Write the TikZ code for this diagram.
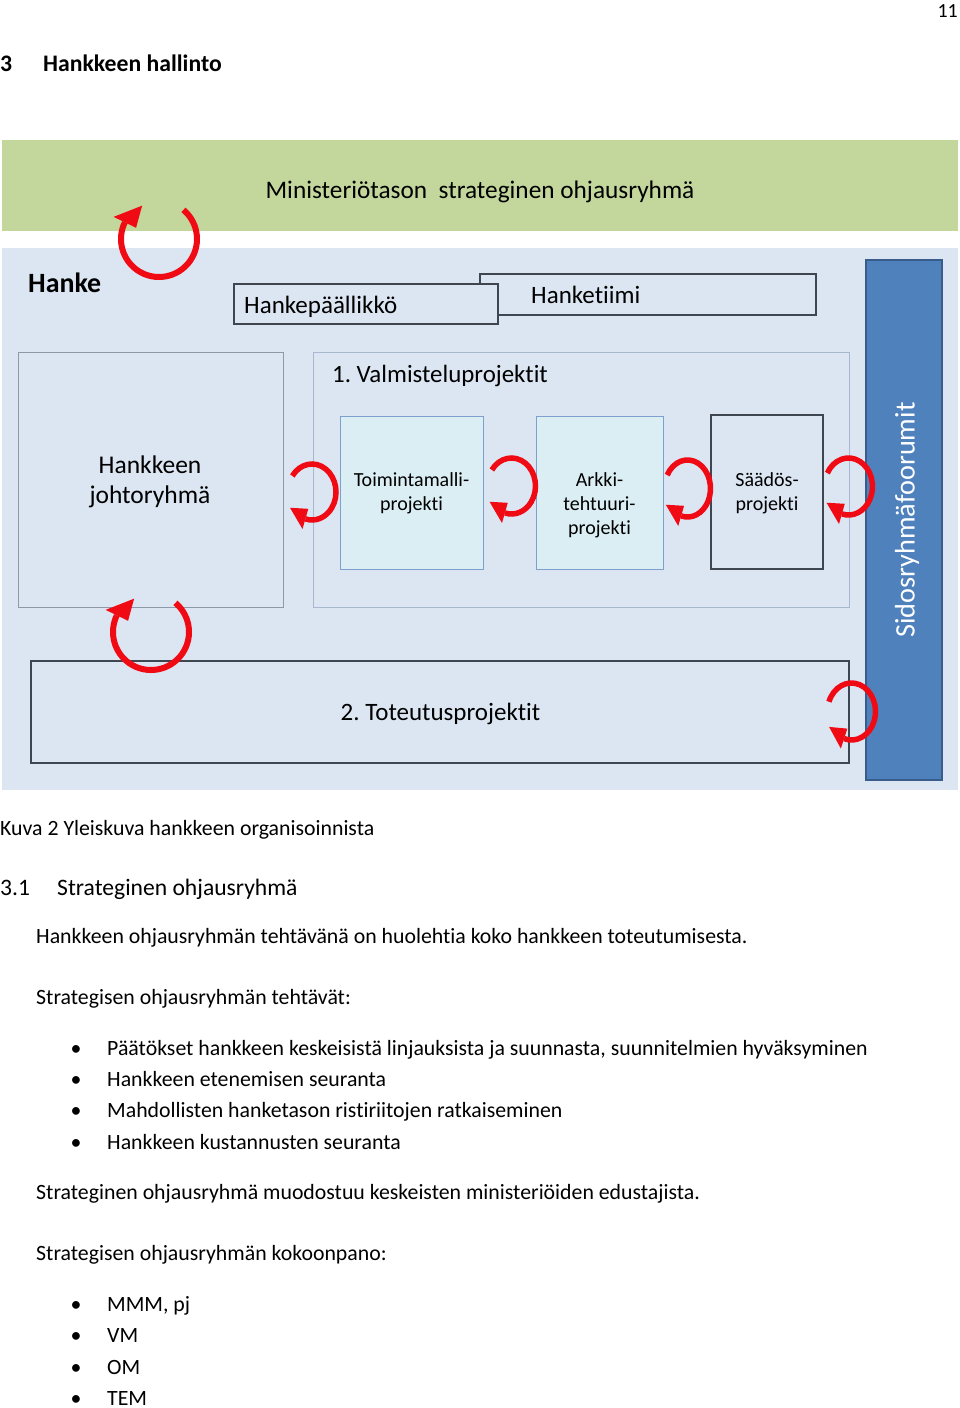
\documentclass[tikz,border=0pt]{standalone}
\usepackage{fontspec}
\setmainfont[Ligatures=NoCommon]{Carlito}
\usetikzlibrary{calc}
\definecolor{grn}{HTML}{C3D69B}
\definecolor{lbl}{HTML}{DCE6F2}
\definecolor{cyanf}{HTML}{DBEEF4}
\definecolor{bluebd}{HTML}{7F9FCF}
\definecolor{liteb}{HTML}{A7B8CF}
\definecolor{greyb}{HTML}{8E99A8}
\definecolor{darkb}{HTML}{3F4650}
\definecolor{barf}{HTML}{4F81BD}
\definecolor{bard}{HTML}{385D8A}
\definecolor{redc}{HTML}{F00A14}
% circular arrow: #1 centre, #2 rx, #3 ry, #4 start, #5 end, #6 head length, #7 head half width, #8 line width
\newcommand\cycarr[8]{%
  \draw[draw=redc, line width=#8] ($(#1)+(#4:#2 and #3)$) arc[start angle=#4, end angle=#5, x radius=#2, y radius=#3];
  \fill[redc] ($(#1)+(#5:#2 and #3)+(#5:#7)$) -- ($(#1)+(#5:#2 and #3)+({#5+180}:#7)$) -- ($(#1)+(#5:#2 and #3)+({#5+110}:#6)$) -- cycle;
}
\frenchspacing
\begin{document}
\frenchspacing
\begin{tikzpicture}[x=1pt,y=-1pt,
  box/.style={rectangle, inner sep=0pt, outer sep=0pt, anchor=north west},
  darkbox/.style={box, fill=lbl, draw=darkb, line width=1.4pt},
  txt/.style={anchor=base west, inner sep=0pt, font=\fontsize{21.8}{26}\selectfont},
  lab/.style={anchor=base, inner sep=0pt, align=center},
  bul/.style={anchor=base, inner sep=0pt, font=\fontsize{21.8}{26}\selectfont}
]
\useasboundingbox (0,0) rectangle (960,1408);
\fill[white] (0,0) rectangle (960,1408);

% header
\node[anchor=base east, inner sep=0pt, font=\fontsize{20}{24}\selectfont] (pg) at (958,17) {11};
\node[txt, font=\fontsize{23.7}{28}\selectfont\bfseries] (h3n) at (0,71) {3};
\node[txt, font=\fontsize{23.7}{28}\selectfont\bfseries] (h3) at (43,71) {Hankkeen hallinto};

% bands
\node[box, fill=grn, minimum width=956pt, minimum height=91pt] (min) at (2,140) {};
\node[box, fill=lbl, minimum width=956pt, minimum height=542pt] (hanke) at (2,248) {};
\node[lab, font=\fontsize{25.3}{30}\selectfont] (mint) at (480,198) {Ministeriötason\ \ strateginen ohjausryhmä};
\node[txt, font=\fontsize{27.9}{32}\selectfont\bfseries] (hanket) at (28,292) {Hanke};

% Hanketiimi / Hankepaallikko
\node[darkbox, minimum width=336pt, minimum height=41pt] (tiimi) at (480,274) {};
\node[txt, font=\fontsize{25}{30}\selectfont] (tiimit) at (531,303) {Hanketiimi};
\node[darkbox, minimum width=264pt, minimum height=40pt] (pj) at (234,284) {};
\node[txt, font=\fontsize{25}{30}\selectfont] (pjt) at (244,313) {Hankepäällikkö};

% johtoryhma, valmistelu
\node[box, draw=greyb, line width=0.9pt, minimum width=265pt, minimum height=255pt] (jr) at (18,352) {};
\node[lab, font=\fontsize{25.5}{30}\selectfont] (jrt) at (150,503) {Hankkeen\\johtoryhmä};
\node[box, draw=liteb, line width=0.9pt, minimum width=536pt, minimum height=255pt] (valm) at (313,352) {};
\node[txt, font=\fontsize{24.9}{30}\selectfont] (valmt) at (332,382) {1. Valmisteluprojektit};

\node[box, fill=cyanf, draw=bluebd, line width=1pt, minimum width=143pt, minimum height=153pt] (toim) at (340,416) {};
\node[lab, font=\fontsize{20}{24}\selectfont] (toimt) at (411.5,510) {Toimintamalli-\\projekti};
\node[box, fill=cyanf, draw=bluebd, line width=1pt, minimum width=127pt, minimum height=153pt] (ark) at (536,416) {};
\node[lab, font=\fontsize{20}{24}\selectfont] (arkt) at (599.5,534) {Arkki-\\tehtuuri-\\projekti};
\node[darkbox, line width=1.1pt, minimum width=112pt, minimum height=154pt] (saad) at (711,415) {};
\node[lab, font=\fontsize{20}{24}\selectfont] (saadt) at (767,510) {Säädös-\\projekti};

% toteutus
\node[darkbox, minimum width=818pt, minimum height=102pt] (tot) at (31,661) {};
\node[lab, font=\fontsize{25}{30}\selectfont] (tott) at (440.5,720) {2. Toteutusprojektit};

% sidosryhma bar
\node[box, fill=barf, draw=bard, line width=1.5pt, minimum width=76pt, minimum height=520pt] (sid) at (866,260) {};
\node[inner sep=0pt, rotate=90, text=white, font=\fontsize{28.3}{33}\selectfont] (sidt) at (907,520) {Sidosryhmäfoorumit};

% red circular arrows
\coordinate (c1) at (159,239);
\coordinate (c2) at (151,632);
\coordinate (c3) at (312,492);
\coordinate (c4) at (511.5,486);
\coordinate (c5) at (687.5,488.5);
\coordinate (c6) at (848.5,486.5);
\coordinate (c7) at (851.5,711.5);
\cycarr{c1}{38}{38}{-50}{206}{24}{12.5}{6pt}
\cycarr{c2}{38}{38}{-50}{206}{24}{12.5}{6pt}
\cycarr{c3}{24}{28}{215}{466}{19}{10.5}{5.5pt}
\cycarr{c4}{24}{28}{215}{466}{19}{10.5}{5.5pt}
\cycarr{c5}{23}{28.5}{208}{466}{19}{10.5}{5.5pt}
\cycarr{c6}{24}{28.5}{208}{466}{19}{10.5}{5.5pt}
\cycarr{c7}{24}{28.5}{200}{468}{19}{10.5}{5.5pt}

% text below
\node[txt] (cap) at (0,835) {Kuva 2 Yleiskuva hankkeen organisoinnista};
\node[txt, font=\fontsize{23.6}{28}\selectfont] (s31n) at (0,895) {3.1};
\node[txt, font=\fontsize{23.6}{28}\selectfont] (s31) at (57,895) {Strateginen ohjausryhmä};
\node[txt] (p1) at (36,943) {Hankkeen ohjausryhmän tehtävänä on huolehtia koko hankkeen toteutumisesta.};
\node[txt] (p2) at (36,1004) {Strategisen ohjausryhmän tehtävät:};
\node[bul] (b1) at (76,1055) {•};
\node[txt] (l1) at (107,1055) {Päätökset hankkeen keskeisistä linjauksista ja suunnasta, suunnitelmien hyväksyminen};
\node[bul] (b2) at (76,1086) {•};
\node[txt] (l2) at (107,1086) {Hankkeen etenemisen seuranta};
\node[bul] (b3) at (76,1117) {•};
\node[txt] (l3) at (107,1117) {Mahdollisten hanketason ristiriitojen ratkaiseminen};
\node[bul] (b4) at (76,1149) {•};
\node[txt] (l4) at (107,1149) {Hankkeen kustannusten seuranta};
\node[txt] (p3) at (36,1199) {Strateginen ohjausryhmä muodostuu keskeisten ministeriöiden edustajista.};
\node[txt] (p4) at (36,1260) {Strategisen ohjausryhmän kokoonpano:};
\node[bul] (b5) at (76,1311) {•};
\node[txt] (m1) at (107,1311) {MMM, pj};
\node[bul] (b6) at (76,1342) {•};
\node[txt] (m2) at (107,1342) {VM};
\node[bul] (b7) at (76,1374) {•};
\node[txt] (m3) at (107,1374) {OM};
\node[bul] (b8) at (76,1405) {•};
\node[txt] (m4) at (107,1405) {TEM};
\end{tikzpicture}
\end{document}
